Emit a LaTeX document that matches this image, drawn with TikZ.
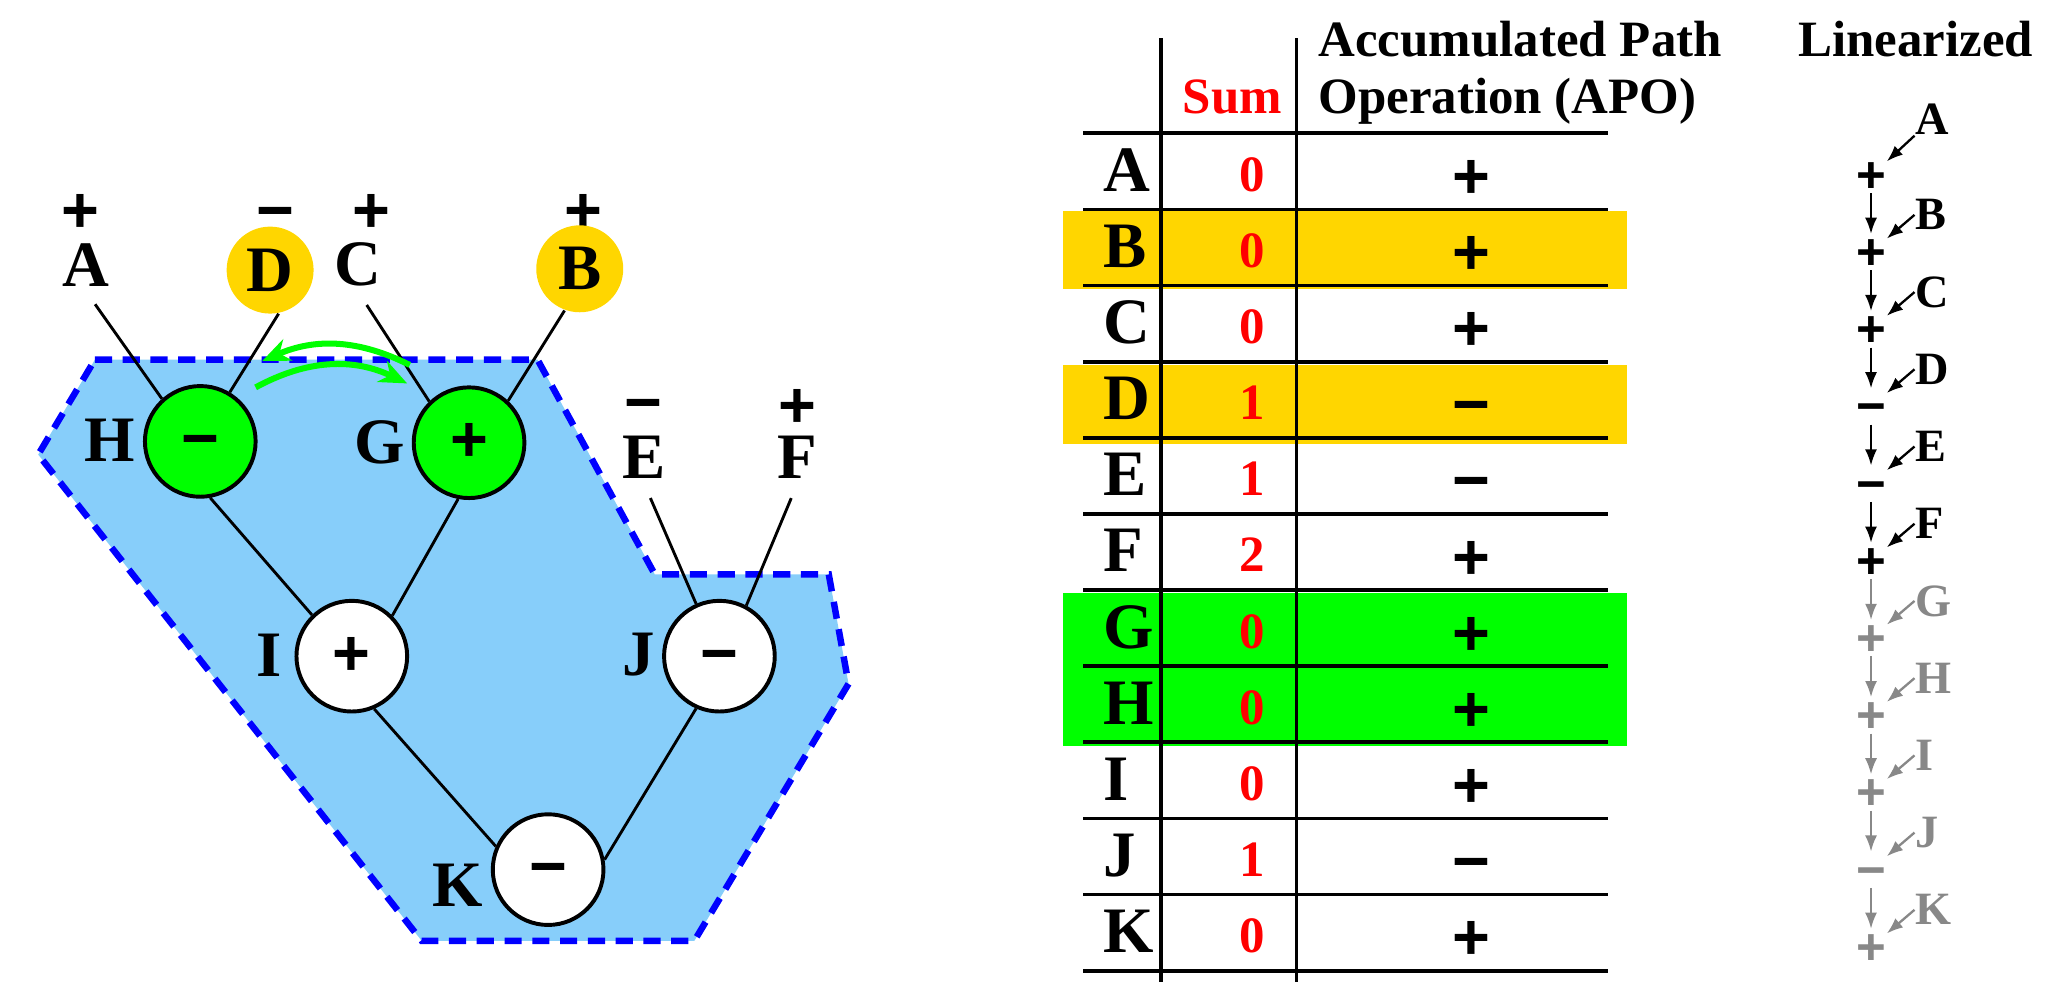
\documentclass[tikz,border=0pt]{standalone}
\usepackage{fontspec}
\setmainfont{Liberation Serif}
\newfontfamily\signfont{Liberation Sans}
\usetikzlibrary{arrows.meta}

\definecolor{swapgreen}{RGB}{0,255,0}
\definecolor{leafgold}{RGB}{255,214,0}
\definecolor{conesky}{RGB}{135,206,250}
\definecolor{fadegray}{RGB}{136,136,136}
\newcommand{\opplus}{\vphantom{+}+}
\newcommand{\opminus}{\vphantom{+}−}

\begin{document}
\begin{tikzpicture}[
  lbl/.style={inner sep=1pt,font=\fontsize{14}{14}\selectfont\bfseries},
  side/.style={inner sep=0pt,font=\fontsize{14}{14}\selectfont\bfseries},
  sgn/.style={inner sep=0pt,font=\fontsize{14}{14}\selectfont\signfont\bfseries},
  opcirc/.style={circle,draw,line width=.85pt,minimum size=.84cm,inner sep=0pt,
    font=\fontsize{14}{14}\selectfont\signfont\bfseries},
  leafdot/.style={circle,fill=leafgold,minimum size=.66cm,inner sep=0pt,
    font=\fontsize{14}{14}\selectfont\bfseries},
  wire/.style={line width=.62pt},
  leafwire/.style={wire,shorten <=3.3pt},
  swaparrow/.style={swapgreen,line width=1.3pt,-{Stealth[length=6pt,width=5pt]}},
  rule/.style={line width=.8pt},
  rowlbl/.style={anchor=base west,inner sep=0pt,font=\fontsize{14}{14}\selectfont\bfseries},
  sumval/.style={anchor=base,inner sep=0pt,text=red,font=\fontsize{11}{11}\selectfont\bfseries},
  apo/.style={inner sep=0pt,font=\fontsize{14}{14}\selectfont\signfont\bfseries},
  colhead/.style={anchor=base west,inner sep=0pt,font=\fontsize{11}{11}\selectfont\bfseries},
  linop/.style={inner sep=0pt,font=\fontsize{11}{11}\selectfont\signfont\bfseries},
  linlbl/.style={anchor=west,inner sep=0pt,font=\fontsize{10}{10}\selectfont\bfseries},
  linarrow/.style={line width=.5pt,-{Latex[length=3.5pt,width=2.6pt]}},
]
\useasboundingbox (0,0) rectangle (15.68,-7.45);

% shaded region of the tree
\draw[blue,fill=conesky,line width=1.4pt,dash pattern=on 3.7pt off 2.3pt]
  (.72,-2.73) -- (4.08,-2.73) -- (4.97,-4.36) -- (6.29,-4.36) -- (6.44,-5.19)
  -- (5.27,-7.14) -- (3.20,-7.14) -- (.29,-3.45) -- cycle;

% leaves
\node[sgn] (sA) at (.61,-1.62) {\opplus};
\node[sgn] (sD) at (2.09,-1.62) {\opminus};
\node[sgn] (sC) at (2.82,-1.62) {\opplus};
\node[sgn] (sB) at (4.43,-1.62) {\opplus};
\node[sgn] (sE) at (4.88,-3.08) {\opminus};
\node[sgn] (sF) at (6.05,-3.10) {\opplus};
\node[lbl] (A) at (.655,-2.01) {A};
\node[leafdot] (D) at (2.05,-2.05) {D};
\node[lbl] (C) at (2.72,-2.01) {C};
\node[leafdot] (B) at (4.40,-2.04) {B};
\node[lbl] (E) at (4.89,-3.47) {E};
\node[lbl] (F) at (6.05,-3.47) {F};

% operators
\node[opcirc,fill=swapgreen] (H) at (1.52,-3.35) {\opminus};
\node[opcirc,fill=swapgreen] (G) at (3.56,-3.36) {\opplus};
\node[opcirc,fill=white] (I) at (2.67,-4.98) {\opplus};
\node[opcirc,fill=white] (J) at (5.46,-4.98) {\opminus};
\node[opcirc,fill=white] (K) at (4.16,-6.60) {\opminus};
\node[side] (lH) at (.83,-3.34) {H};
\node[side] (lG) at (2.88,-3.36) {G};
\node[side] (lI) at (2.04,-4.97) {I};
\node[side] (lJ) at (4.85,-4.97) {J};
\node[side] (lK) at (3.47,-6.72) {K};

\draw[leafwire] (A.south) -- (H.132);
\draw[wire] (D.-79) -- (H.59);
\draw[leafwire] (C.south) -- (G.134);
\draw[wire] (B.-110) -- (G.47);
\draw[wire] (H.-80) -- (I.134);
\draw[wire] (G.-101) -- (I.45);
\draw[wire] (I.-67) -- (K.156);
\draw[wire] (J.-114) -- (K.10);
\draw[leafwire] (E.south) -- (J.114);
\draw[leafwire] (F.south) -- (J.62);

% swap of H and G
\coordinate (swapGa) at (3.11,-2.77);
\coordinate (swapHa) at (1.99,-2.74);
\coordinate (swapHb) at (1.94,-2.94);
\coordinate (swapGb) at (3.09,-2.91);
\draw[swaparrow] (swapGa) to[bend right=25] (swapHa);
\draw[swaparrow] (swapHb) to[bend left=27] (swapGb);

% table
\fill[leafgold] (8.07,-1.600) rectangle (12.35,-2.192);
\fill[leafgold] (8.07,-2.772) rectangle (12.35,-3.367);
\fill[swapgreen] (8.07,-4.503) rectangle (12.35,-5.662);
\draw[rule] (8.81,-.29) -- (8.81,-7.45);
\draw[rule] (9.84,-.29) -- (9.84,-7.45);
\draw[rule] (8.22,-1.012) -- (12.20,-1.012);
\draw[rule] (8.22,-1.590) -- (12.20,-1.590);
\draw[rule] (8.22,-2.167) -- (12.20,-2.167);
\draw[rule] (8.22,-2.745) -- (12.20,-2.745);
\draw[rule] (8.22,-3.323) -- (12.20,-3.323);
\draw[rule] (8.22,-3.901) -- (12.20,-3.901);
\draw[rule] (8.22,-4.478) -- (12.20,-4.478);
\draw[rule] (8.22,-5.056) -- (12.20,-5.056);
\draw[rule] (8.22,-5.634) -- (12.20,-5.634);
\draw[rule] (8.22,-6.211) -- (12.20,-6.211);
\draw[rule] (8.22,-6.789) -- (12.20,-6.789);
\draw[rule] (8.22,-7.367) -- (12.20,-7.367);

\node[colhead,text=red] (sum) at (8.97,-.86) {Sum};
\node[colhead] (apohead) at (10.00,-.43) {Accumulated Path};
\node[colhead] (apohead2) at (10.00,-.86) {Operation (APO)};

\node[rowlbl] (tA) at (8.37,-1.452) {A};
\node[rowlbl] (tB) at (8.37,-2.030) {B};
\node[rowlbl] (tC) at (8.37,-2.607) {C};
\node[rowlbl] (tD) at (8.37,-3.185) {D};
\node[rowlbl] (tE) at (8.37,-3.763) {E};
\node[rowlbl] (tF) at (8.37,-4.341) {F};
\node[rowlbl] (tG) at (8.37,-4.918) {G};
\node[rowlbl] (tH) at (8.37,-5.496) {H};
\node[rowlbl] (tI) at (8.37,-6.074) {I};
\node[rowlbl] (tJ) at (8.37,-6.651) {J};
\node[rowlbl] (tK) at (8.37,-7.229) {K};

\node[sumval] (nA) at (9.50,-1.452) {0};
\node[sumval] (nB) at (9.50,-2.030) {0};
\node[sumval] (nC) at (9.50,-2.607) {0};
\node[sumval] (nD) at (9.50,-3.185) {1};
\node[sumval] (nE) at (9.50,-3.763) {1};
\node[sumval] (nF) at (9.50,-4.341) {2};
\node[sumval] (nG) at (9.50,-4.918) {0};
\node[sumval] (nH) at (9.50,-5.496) {0};
\node[sumval] (nI) at (9.50,-6.074) {0};
\node[sumval] (nJ) at (9.50,-6.651) {1};
\node[sumval] (nK) at (9.50,-7.229) {0};

\node[apo] (oA) at (11.17,-1.362) {\opplus};
\node[apo] (oB) at (11.17,-1.940) {\opplus};
\node[apo] (oC) at (11.17,-2.517) {\opplus};
\node[apo] (oD) at (11.17,-3.095) {\opminus};
\node[apo] (oE) at (11.17,-3.673) {\opminus};
\node[apo] (oF) at (11.17,-4.251) {\opplus};
\node[apo] (oG) at (11.17,-4.828) {\opplus};
\node[apo] (oH) at (11.17,-5.406) {\opplus};
\node[apo] (oI) at (11.17,-5.984) {\opplus};
\node[apo] (oJ) at (11.17,-6.561) {\opminus};
\node[apo] (oK) at (11.17,-7.139) {\opplus};

% linearized chain
\node[colhead,anchor=base] (linhead) at (14.54,-.43) {Linearized};

\node[linop] (pA) at (14.20,-1.345) {\opplus};
\node[linop] (pB) at (14.20,-1.931) {\opplus};
\node[linop] (pC) at (14.20,-2.517) {\opplus};
\node[linop] (pD) at (14.20,-3.103) {\opminus};
\node[linop] (pE) at (14.20,-3.689) {\opminus};
\node[linop] (pF) at (14.20,-4.275) {\opplus};
\node[linop,text=fadegray] (pG) at (14.20,-4.861) {\opplus};
\node[linop,text=fadegray] (pH) at (14.20,-5.447) {\opplus};
\node[linop,text=fadegray] (pI) at (14.20,-6.033) {\opplus};
\node[linop,text=fadegray] (pJ) at (14.20,-6.619) {\opminus};
\node[linop,text=fadegray] (pK) at (14.20,-7.205) {\opplus};

\node[linlbl] (qA) at (14.53,-.907) {A};
\node[linlbl] (qB) at (14.53,-1.631) {B};
\node[linlbl] (qC) at (14.53,-2.217) {C};
\node[linlbl] (qD) at (14.53,-2.803) {D};
\node[linlbl] (qE) at (14.53,-3.389) {E};
\node[linlbl] (qF) at (14.53,-3.975) {F};
\node[linlbl,text=fadegray] (qG) at (14.53,-4.561) {G};
\node[linlbl,text=fadegray] (qH) at (14.53,-5.147) {H};
\node[linlbl,text=fadegray] (qI) at (14.53,-5.733) {I};
\node[linlbl,text=fadegray] (qJ) at (14.53,-6.319) {J};
\node[linlbl,text=fadegray] (qK) at (14.53,-6.905) {K};

\draw[linarrow] (qA.south west) -- (pA.north east);
\draw[linarrow] (qB.west) -- (pB.north east);
\draw[linarrow] (qC.west) -- (pC.north east);
\draw[linarrow] (qD.west) -- (pD.north east);
\draw[linarrow] (qE.west) -- (pE.north east);
\draw[linarrow] (qF.west) -- (pF.north east);
\draw[linarrow,fadegray] (qG.west) -- (pG.north east);
\draw[linarrow,fadegray] (qH.west) -- (pH.north east);
\draw[linarrow,fadegray] (qI.west) -- (pI.north east);
\draw[linarrow,fadegray] (qJ.west) -- (pJ.north east);
\draw[linarrow,fadegray] (qK.west) -- (pK.north east);

\draw[linarrow,shorten >=1pt] (pA.south) -- (pB.north);
\draw[linarrow,shorten >=1pt] (pB.south) -- (pC.north);
\draw[linarrow,shorten >=1pt] (pC.south) -- (pD.north);
\draw[linarrow,shorten >=1pt] (pD.south) -- (pE.north);
\draw[linarrow,shorten >=1pt] (pE.south) -- (pF.north);
\draw[linarrow,shorten >=1pt,fadegray] (pF.south) -- (pG.north);
\draw[linarrow,shorten >=1pt,fadegray] (pG.south) -- (pH.north);
\draw[linarrow,shorten >=1pt,fadegray] (pH.south) -- (pI.north);
\draw[linarrow,shorten >=1pt,fadegray] (pI.south) -- (pJ.north);
\draw[linarrow,shorten >=1pt,fadegray] (pJ.south) -- (pK.north);
\end{tikzpicture}
\end{document}
